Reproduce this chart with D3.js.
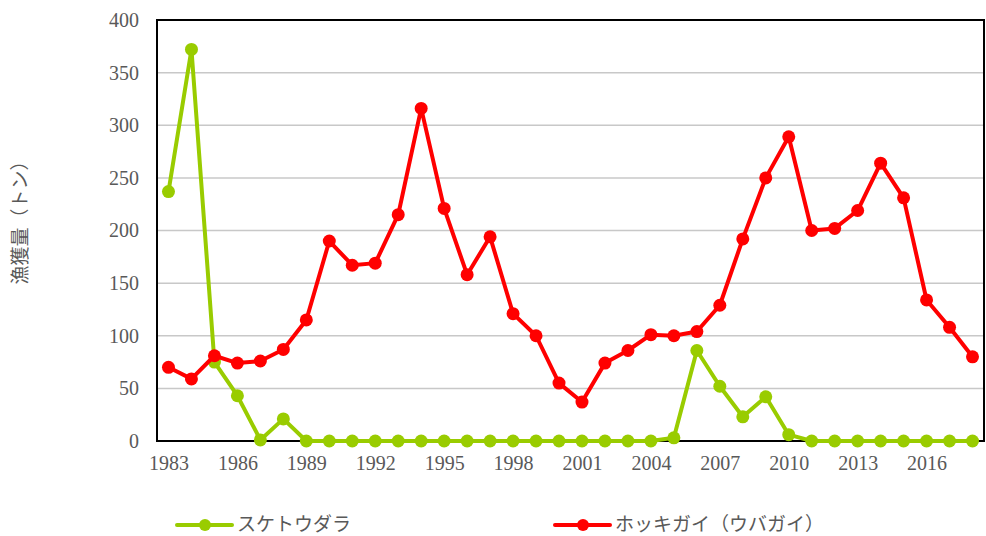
<!DOCTYPE html>
<html>
<head>
<meta charset="utf-8">
<script src="https://cdn.jsdelivr.net/npm/d3@7"></script>
<style>
  body { margin: 0; background: #fff; }
  .tick text { font-family: "Liberation Serif", "DejaVu Serif", serif; fill: #595959; }
  .jp { font-family: "Noto Sans CJK JP", sans-serif; fill: #595959; }
</style>
</head>
<body>
<svg id="chart" width="986" height="536"></svg>
<script>
// years on the category axis
const years = d3.range(1983, 2019);
const tickYears = [1983, 1986, 1989, 1992, 1995, 1998, 2001, 2004, 2007, 2010, 2013, 2016];
const yTicks = [0, 50, 100, 150, 200, 250, 300, 350, 400];

// スケトウダラ
const pollock = [237, 372, 75, 43, 1, 21, 0, 0, 0, 0, 0, 0, 0, 0, 0, 0, 0, 0, 0, 0, 0, 0, 3, 86,
  52, 23, 42, 6, 0, 0, 0, 0, 0, 0, 0, 0];
// ホッキガイ(ウバガイ)
const surfClam = [70, 59, 81, 74, 76, 87, 115, 190, 167, 169, 215, 316, 221, 158, 194, 121, 100, 55,
  37, 74, 86, 101, 100, 104, 129, 192, 250, 289, 200, 202, 219, 264, 231, 134, 108, 80];

const seriesList = [
    {name: "スケトウダラ", values: pollock, color: "#99cc00"},
    {name: "ホッキガイ（ウバガイ）", values: surfClam, color: "#ff0000"}
];

const svg = d3.select("#chart");
const margin = {top: 20, right: 2, bottom: 95, left: 157};
const width = 986 - margin.left - margin.right;
const height = 536 - margin.top - margin.bottom;

const g = svg.append("g")
    .attr("transform", `translate(${margin.left},${margin.top})`);

const x = d3.scalePoint()
    .domain(years)
    .range([0, width])
    .padding(0.5);

const y = d3.scaleLinear()
    .domain([0, 400])
    .range([height, 0]);

// gridlines
g.selectAll(".grid")
    .data(yTicks.slice(1, -1))
    .enter().append("line")
    .attr("x1", 0)
    .attr("x2", width)
    .attr("y1", d => y(d))
    .attr("y2", d => y(d))
    .attr("stroke", "#c8c8c8")
    .attr("stroke-width", 1.5);

// plot frame
g.append("rect")
    .attr("width", width)
    .attr("height", height)
    .attr("fill", "none")
    .attr("stroke", "#000")
    .attr("stroke-width", 2);

// Y axis
g.append("g")
    .call(d3.axisLeft(y).tickValues(yTicks).tickSize(0).tickPadding(18))
    .call(a => a.select(".domain").remove())
    .selectAll("text")
    .attr("font-size", "20px");

// X axis
g.append("g")
    .attr("transform", `translate(0,${height})`)
    .call(d3.axisBottom(x).tickValues(tickYears).tickSize(0).tickPadding(15))
    .call(a => a.select(".domain").remove())
    .selectAll("text")
    .attr("font-size", "20px");

// y label
svg.append("text")
    .attr("class", "jp")
    .attr("transform", "translate(27,218) rotate(-90)")
    .attr("text-anchor", "middle")
    .attr("font-size", "19px")
    .text("漁獲量（トン）");

const line = d3.line()
    .x((d, i) => x(years[i]))
    .y(d => y(d));

seriesList.forEach(s => {
    g.append("path")
        .datum(s.values)
        .attr("fill", "none")
        .attr("stroke", s.color)
        .attr("stroke-width", 4)
        .attr("stroke-linejoin", "round")
        .attr("d", line);

    g.selectAll(null)
        .data(s.values)
        .enter().append("circle")
        .attr("cx", (d, i) => x(years[i]))
        .attr("cy", d => y(d))
        .attr("r", 6.5)
        .attr("fill", s.color);
});

// legend
const legendPos = [177, 555];
seriesList.forEach((s, i) => {
    const lg = svg.append("g")
        .attr("transform", `translate(${legendPos[i]},525)`);
    lg.append("line")
        .attr("x1", 0)
        .attr("x2", 55)
        .attr("stroke", s.color)
        .attr("stroke-width", 4)
        .attr("stroke-linecap", "round");
    lg.append("circle")
        .attr("cx", 28)
        .attr("r", 6)
        .attr("fill", s.color);
    lg.append("text")
        .attr("class", "jp")
        .attr("x", 60)
        .attr("dy", "0.3em")
        .attr("font-size", "19px")
        .text(s.name);
});
</script>
</body>
</html>
